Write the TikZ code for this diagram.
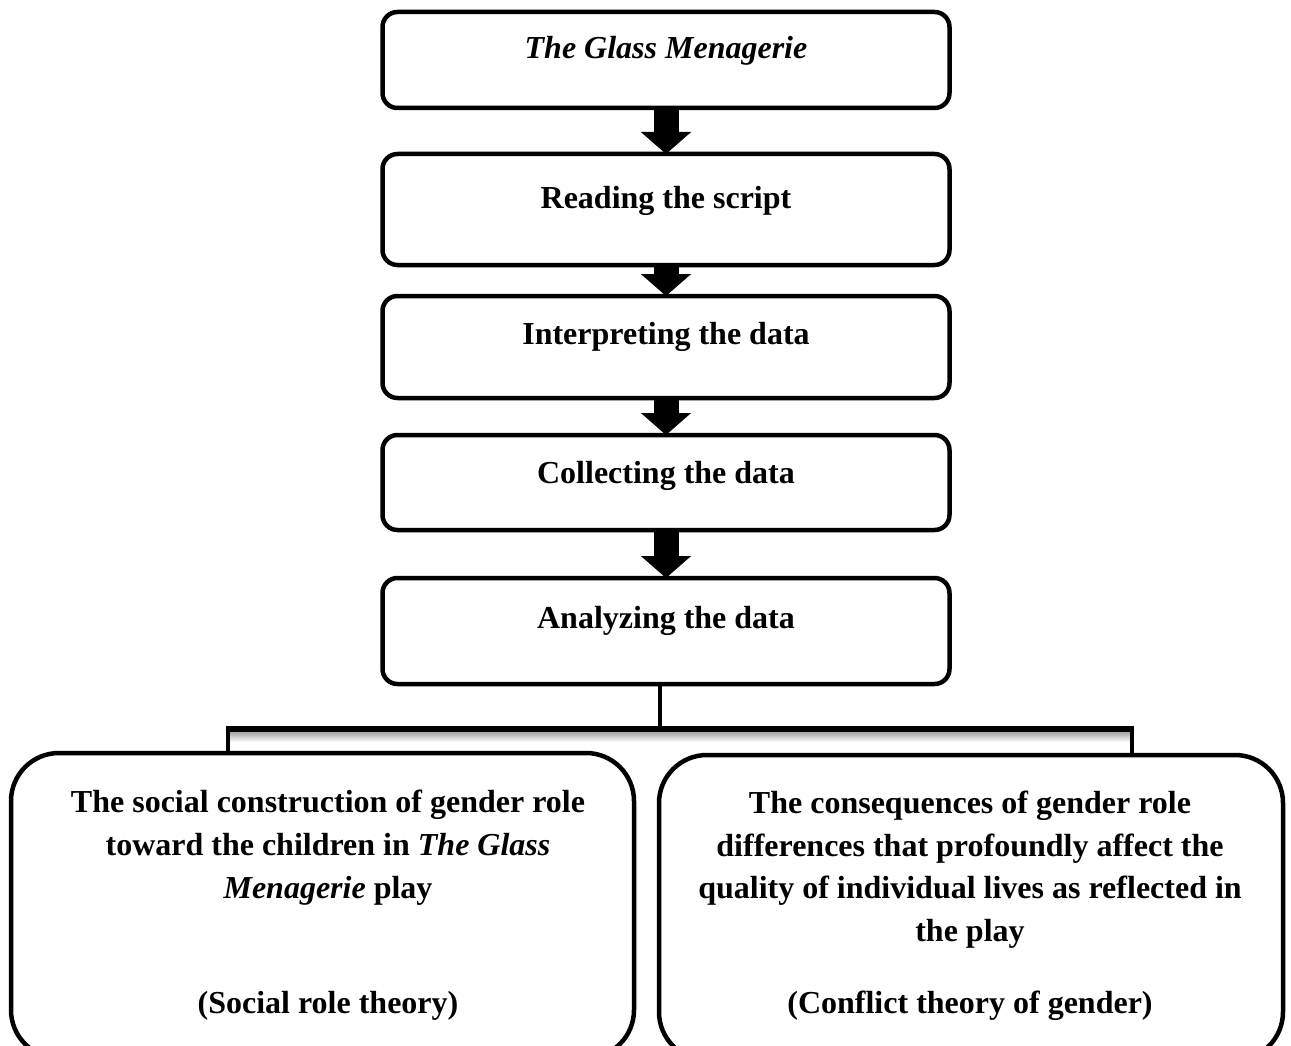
\documentclass[tikz,border=0pt]{standalone}
\usepackage{fontspec}
\setmainfont{Liberation Serif}
\usetikzlibrary{positioning,arrows.meta}

\begin{document}
\begin{tikzpicture}[x=1pt,y=1pt,
  stage/.style={draw, shape=rectangle, rounded corners=15pt, line width=4.5pt,
    minimum width=567pt, outer sep=0pt},
  theory/.style={draw, shape=rectangle, rounded corners=48pt, line width=4.5pt,
    outer sep=0pt, anchor=north west},
  txt/.style={font=\fontsize{32}{43}\selectfont\bfseries, inner sep=0pt, align=center},
  blockarrow/.style={line width=25pt, -{Triangle[width=49pt,length=22pt]}}]
  \useasboundingbox (0,0) rectangle (1291,-1046);
  % steps of the method
  \node (glass) [stage, minimum height=96pt] at (666,-60) {};
  \node (read) [stage, minimum height=111pt, below=46pt of glass] {};
  \node (interp) [stage, minimum height=102pt, below=31pt of read] {};
  \node (collect) [stage, minimum height=95pt, below=37pt of interp] {};
  \node (analyze) [stage, minimum height=106pt, below=48pt of collect] {};
  \node (glasstxt) [txt, yshift=9pt] at (glass) {\textit{The Glass Menagerie}};
  \node (readtxt) [txt, yshift=9pt] at (read) {Reading the script};
  \node (interptxt) [txt, yshift=10pt] at (interp) {Interpreting the data};
  \node (collecttxt) [txt, yshift=7pt] at (collect) {Collecting the data};
  \node (analyzetxt) [txt, yshift=10pt] at (analyze) {Analyzing the data};
  \draw[blockarrow] (glass) -- (read);
  \draw[blockarrow] (read) -- (interp);
  \draw[blockarrow] (interp) -- (collect);
  \draw[blockarrow] (collect) -- (analyze);
  % two theories
  \node (social) [theory, minimum width=623pt, minimum height=305pt] at (11,-753) {};
  \node (conflict) [theory, minimum width=624pt, minimum height=305pt] at (659,-755) {};
  \node (socialtxt) [txt, anchor=north] at (328,-790) {The social construction of gender role\\
    toward the children in \textit{The Glass}\\ \textit{Menagerie} play\\[72pt]
    (Social role theory)};
  \node (conflicttxt) [txt, anchor=north, font=\fontsize{32}{42.5}\selectfont\bfseries]
    at (970,-791) {The consequences of gender role\\
    differences that profoundly affect the\\
    quality of individual lives as reflected in\\ the play\\[30pt]
    (Conflict theory of gender)};
  % split connector
  \coordinate (barL) at (228,-729);
  \coordinate (barR) at (1132,-729);
  \shade[top color=black!35, bottom color=white] (228,-732) rectangle (1132,-742);
  \draw[line width=4pt] (analyze.south -| 660,0) -- (660,-729);
  \draw[line width=6pt] (barL) -- (barR);
  \draw[line width=4pt] ([yshift=3pt]barL) -- (barL |- social.north);
  \draw[line width=4pt] ([yshift=3pt]barR) -- (barR |- conflict.north);
\end{tikzpicture}
\end{document}
